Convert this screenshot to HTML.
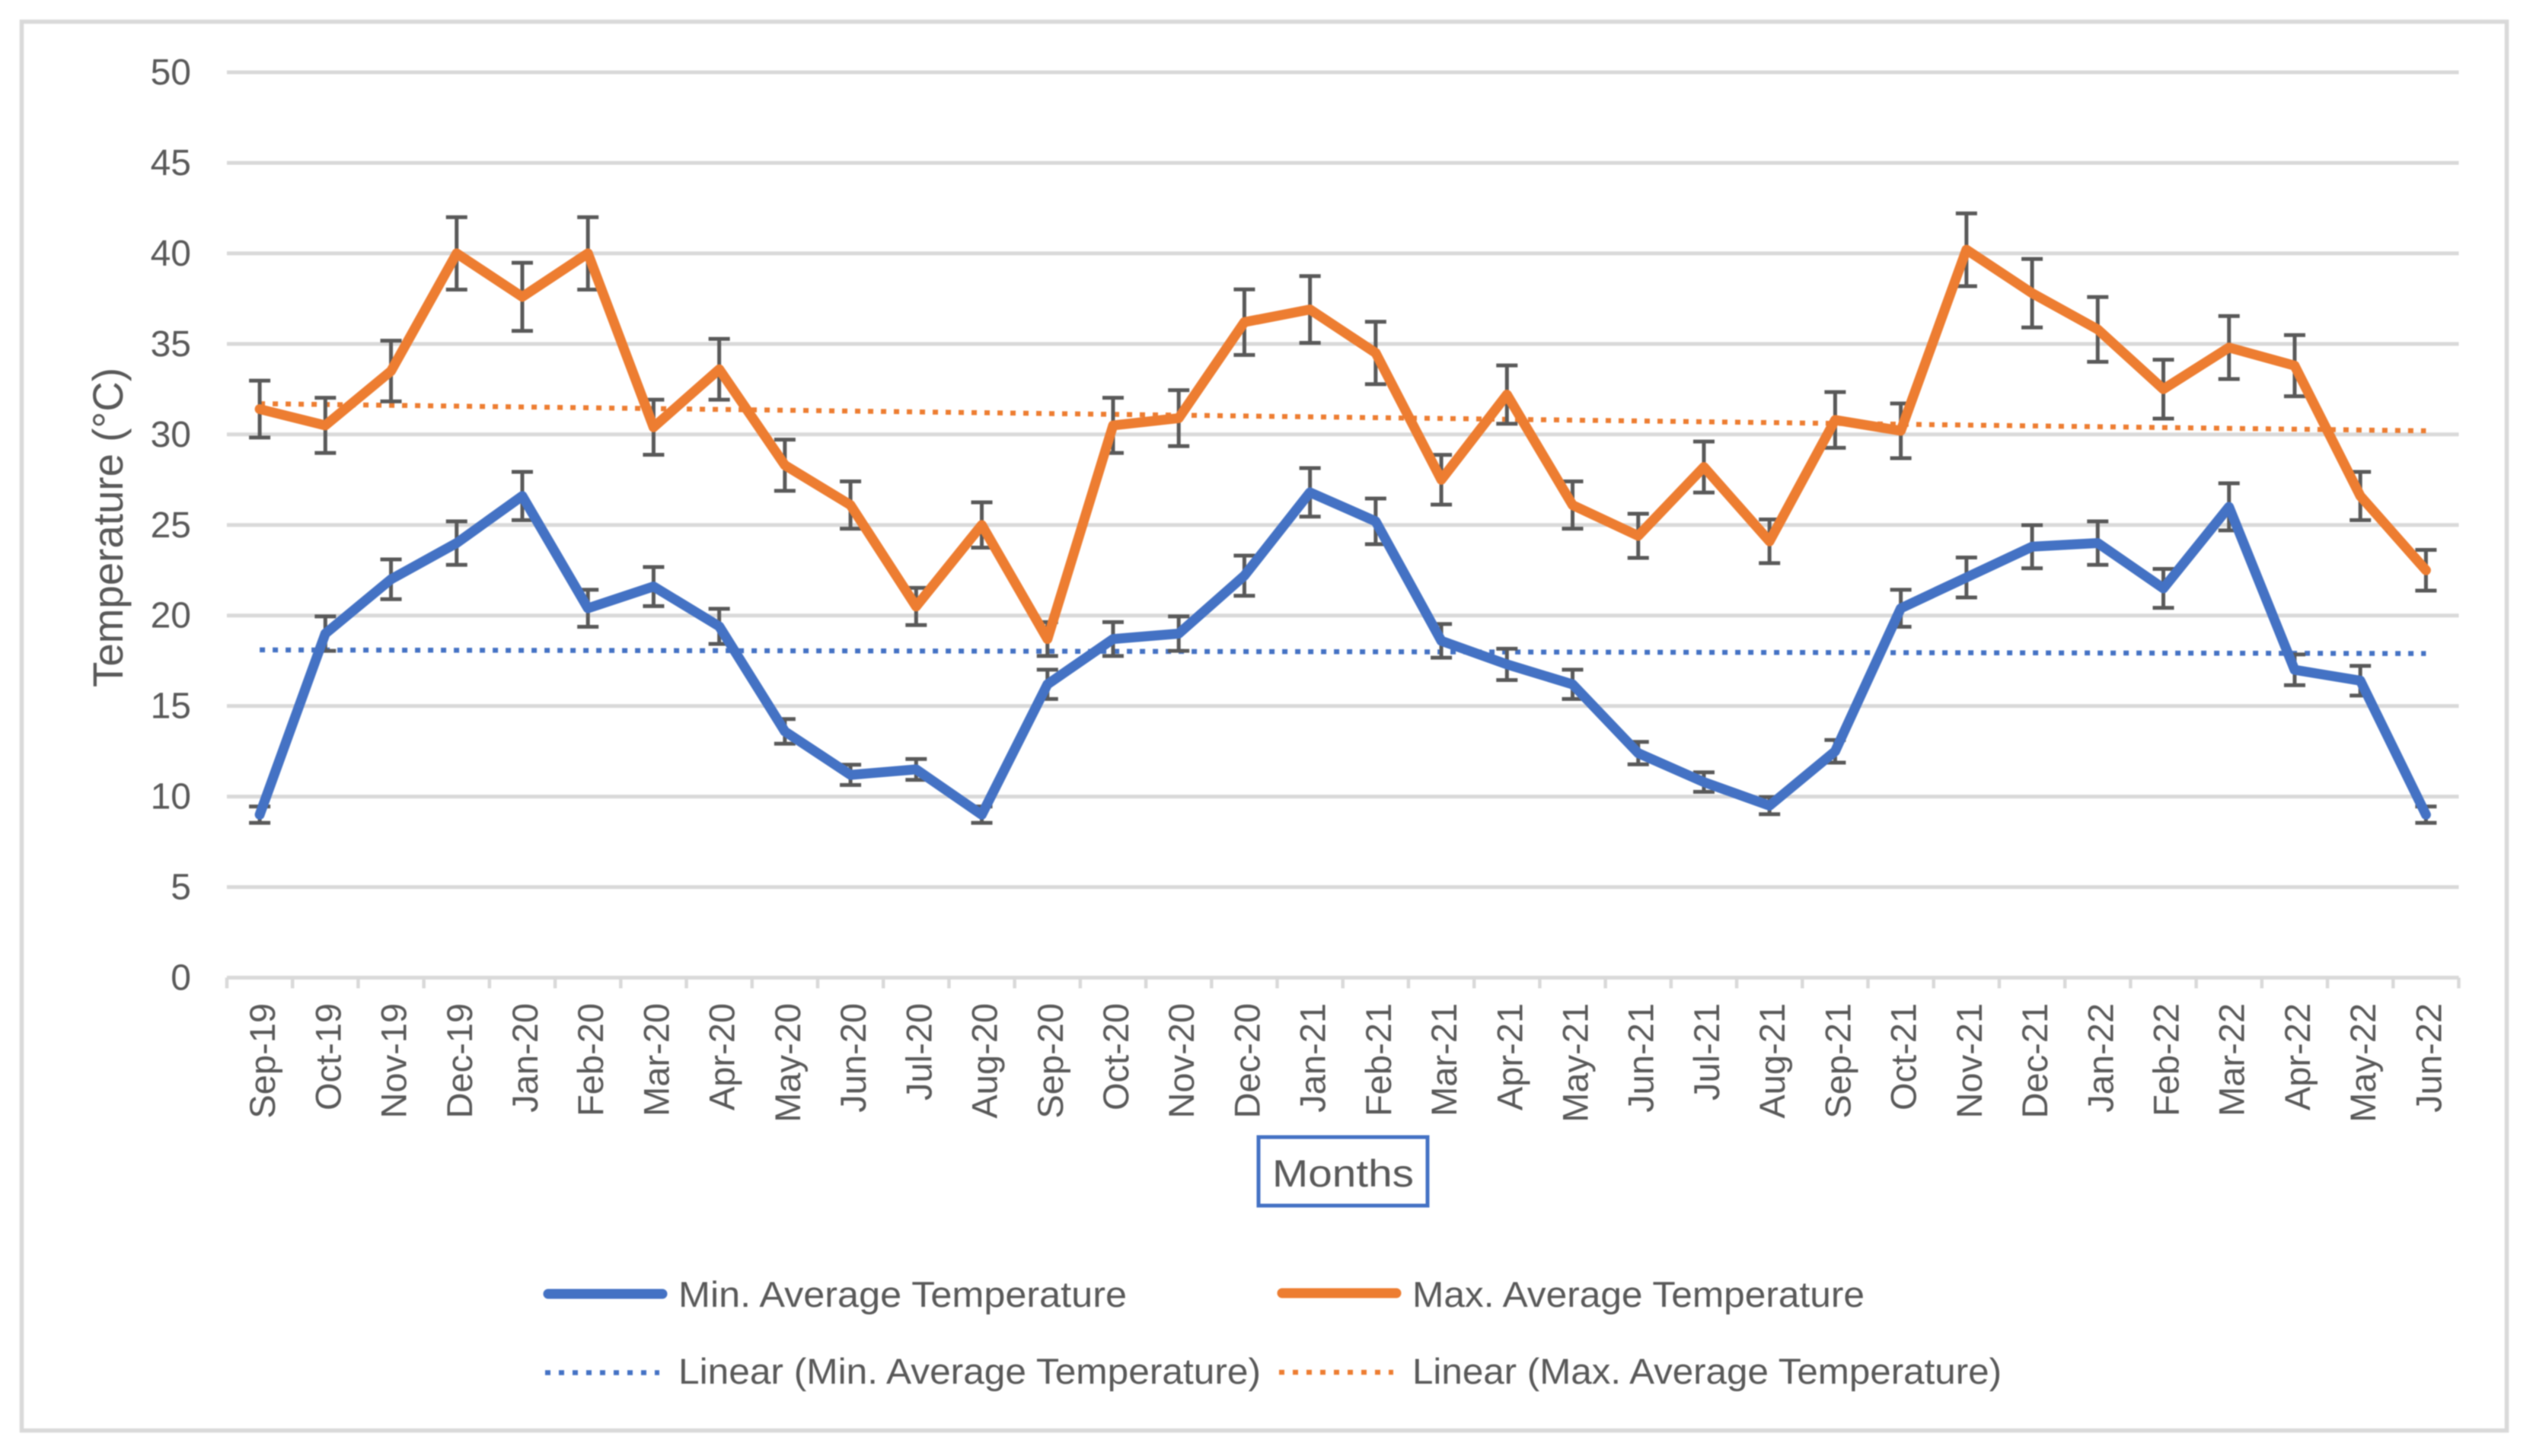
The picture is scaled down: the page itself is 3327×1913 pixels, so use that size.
<!DOCTYPE html>
<html lang="en">
<head>
<meta charset="utf-8">
<title>Minimum and maximum average temperature</title>
<style>
  html, body { margin: 0; padding: 0; background: #fff; }
  body { width: 3327px; height: 1913px; overflow: hidden; }
  svg { display: block; filter: blur(0.7px); }
  text { font-family: "Liberation Sans", sans-serif; fill: #595959; }
</style>
</head>
<body>
<svg id="chart" xmlns="http://www.w3.org/2000/svg" width="3327" height="1913" viewBox="0 0 3327 1913">
  <rect x="28.5" y="28.5" width="3264" height="1851" fill="#ffffff" stroke="#d9d9d9" stroke-width="5.5"/>
  <g id="grid"></g>
  <g id="xticks"></g>
  <g id="ylabels"></g>
  <g id="xlabels"></g>
  <text transform="translate(161,903) rotate(-90)" font-size="56" textLength="420" lengthAdjust="spacingAndGlyphs">Temperature (°C)</text>
  <g id="trends"></g>
  <g id="errors"></g>
  <g id="lines"></g>
  <rect x="1653" y="1494" width="222" height="90" fill="none" stroke="#4472c4" stroke-width="5"/>
  <text x="1671" y="1559" font-size="50" textLength="186" lengthAdjust="spacingAndGlyphs">Months</text>
  <g>
    <line x1="720" y1="1700" x2="870" y2="1700" stroke="#4472c4" stroke-width="13" stroke-linecap="round"/>
    <text x="891" y="1717" font-size="47" textLength="589" lengthAdjust="spacingAndGlyphs">Min. Average Temperature</text>
    <line x1="1684" y1="1699" x2="1834" y2="1699" stroke="#ed7d31" stroke-width="13" stroke-linecap="round"/>
    <text x="1855" y="1717" font-size="47" textLength="594" lengthAdjust="spacingAndGlyphs">Max. Average Temperature</text>
    <line x1="716" y1="1803.5" x2="866" y2="1803.5" stroke="#4472c4" stroke-width="6.5" stroke-dasharray="7 11"/>
    <text x="891" y="1818" font-size="47" textLength="765" lengthAdjust="spacingAndGlyphs">Linear (Min. Average Temperature)</text>
    <line x1="1680" y1="1803" x2="1830" y2="1803" stroke="#ed7d31" stroke-width="6.5" stroke-dasharray="7 11"/>
    <text x="1855" y="1818" font-size="47" textLength="774" lengthAdjust="spacingAndGlyphs">Linear (Max. Average Temperature)</text>
  </g>
</svg>
<script>
const categories = ["Sep-19","Oct-19","Nov-19","Dec-19","Jan-20","Feb-20","Mar-20","Apr-20","May-20","Jun-20","Jul-20","Aug-20","Sep-20","Oct-20","Nov-20","Dec-20","Jan-21","Feb-21","Mar-21","Apr-21","May-21","Jun-21","Jul-21","Aug-21","Sep-21","Oct-21","Nov-21","Dec-21","Jan-22","Feb-22","Mar-22","Apr-22","May-22","Jun-22"];
const minTemps = [9,19,22,24,26.6,20.4,21.6,19.4,13.6,11.2,11.5,9,16.2,18.7,19,22.2,26.8,25.2,18.6,17.3,16.2,12.4,10.8,9.5,12.5,20.4,22.1,23.8,24,21.5,26,17,16.4,9];
const maxTemps = [31.4,30.5,33.5,40,37.6,40,30.4,33.6,28.3,26.1,20.5,25,18.7,30.5,30.9,36.2,36.9,34.5,27.5,32.2,26.1,24.4,28.2,24.1,30.8,30.2,40.2,37.8,35.8,32.5,34.8,33.8,26.6,22.5];
const minTrend = [18.1,17.9];
const maxTrend = [31.7,30.2];
const errorFraction = 0.05;
const yTicks = [0,5,10,15,20,25,30,35,40,45,50];

const svgNS = "http://www.w3.org/2000/svg";
const plotLeft = 298, plotRight = 3229.5, plotBottom = 1284.5, plotTop = 95, yMax = 50;
const BLUE = "#4472c4", ORANGE = "#ed7d31", GREY = "#595959", GRID = "#d9d9d9";

function xBand() { return (plotRight - plotLeft) / categories.length; }
function xScale(i) { return plotLeft + (i + 0.5) * xBand(); }
function yScale(v) { return plotBottom - (v / yMax) * (plotBottom - plotTop); }
function make(tag, attrs, parent) {
  const el = document.createElementNS(svgNS, tag);
  for (const k in attrs) el.setAttribute(k, attrs[k]);
  document.getElementById(parent).appendChild(el);
  return el;
}

yTicks.forEach(function (t) {
  const g = make("line", {x1: plotLeft, x2: plotRight, y1: yScale(t), y2: yScale(t), stroke: GRID, "stroke-width": 5}, "grid");
  
  
  const l = make("text", {x: 251, y: yScale(t) + 16, "text-anchor": "end", "font-size": 48}, "ylabels");
  l.textContent = String(t);
  
  
});

for (let i = 0; i <= categories.length; i++) {
  const x = plotLeft + i * xBand();
  const tk = make("line", {x1: x, x2: x, y1: plotBottom, y2: plotBottom + 14, stroke: GRID, "stroke-width": 4.5}, "xticks");
  
  
}

categories.forEach(function (c, i) {
  const t = make("text", {transform: "translate(" + (xScale(i) + 20) + ",1318) rotate(-90)", "text-anchor": "end", "font-size": 47}, "xlabels");
  t.textContent = c;
  
  
});

function drawTrend(vals, color, name) {
  const tr = make("line", {x1: xScale(0), x2: xScale(categories.length - 1), y1: yScale(vals[0]), y2: yScale(vals[1]), stroke: color, "stroke-width": 6.5, "stroke-dasharray": "7 10"}, "trends");
  
  
}
drawTrend(minTrend, BLUE, 'trendline-min');
drawTrend(maxTrend, ORANGE, 'trendline-max');

function drawErrors(vals) {
  vals.forEach(function (v, i) {
    const x = xScale(i), hi = yScale(v * (1 + errorFraction)), lo = yScale(v * (1 - errorFraction));
    const e = make("path", {d: "M" + (x - 14) + " " + hi + "H" + (x + 14) + "M" + x + " " + hi + "V" + lo + "M" + (x - 14) + " " + lo + "H" + (x + 14), fill: "none", stroke: GREY, "stroke-width": 5}, "errors");
    
    
  });
}
drawErrors(minTemps);
drawErrors(maxTemps);

function drawLine(vals, color, name) {
  const pts = vals.map(function (v, i) { return xScale(i).toFixed(1) + "," + yScale(v).toFixed(1); }).join(" ");
  const p = make("polyline", {points: pts, fill: "none", stroke: color, "stroke-width": 13, "stroke-linejoin": "round", "stroke-linecap": "round"}, "lines");
  
  
}
drawLine(minTemps, BLUE, 'line-min-average-temperature');
drawLine(maxTemps, ORANGE, 'line-max-average-temperature');
</script>
</body>
</html>
